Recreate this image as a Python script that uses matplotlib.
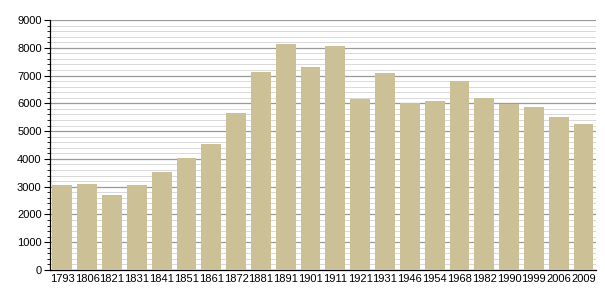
# diagrama de barras de poblacion por anio

import matplotlib.pyplot as plt
import numpy as np
from matplotlib.ticker import MultipleLocator

anios = ['1793', '1806', '1821', '1831', '1841', '1851', '1861', '1872', '1881', '1891', '1901',
         '1911', '1921', '1931', '1946', '1954', '1968', '1982', '1990', '1999', '2006', '2009']
poblacion = [3060, 3110, 2700, 3060, 3530, 4030, 4520, 5660, 7140, 8150, 7310,
             8060, 6170, 7090, 6000, 6080, 6800, 6180, 5990, 5870, 5520, 5260]

plt.rcParams['font.family'] = ['Liberation Sans', 'DejaVu Sans']

fig = plt.figure(figsize=(6.05, 3.0), dpi=100)
ax = fig.add_axes([0.0826, 0.1, 0.9024, 0.8333])

x = np.arange(len(anios))
ax.bar(x, poblacion, width=0.8, color='#cbc096', zorder=3)

ax.set_xlim(-0.5, len(anios) - 0.5)
ax.set_ylim(0, 9000)
ax.yaxis.set_major_locator(MultipleLocator(1000))
ax.yaxis.set_minor_locator(MultipleLocator(200))
ax.grid(axis='y', which='major', color='#999999', linewidth=0.9, zorder=0)
ax.grid(axis='y', which='minor', color='#d8d8d8', linewidth=0.7, zorder=0)

ax.set_xticks(x)
ax.set_xticklabels(anios, fontsize=8)
ax.tick_params(axis='x', length=0, pad=3)
ax.tick_params(axis='y', which='major', length=4, width=0.8, labelsize=8, pad=2)
ax.tick_params(axis='y', which='minor', length=2, width=0.6)

for s in ['top', 'right']:
    ax.spines[s].set_visible(False)
ax.spines['left'].set_linewidth(0.9)
ax.spines['bottom'].set_linewidth(0.9)

fig.savefig('out.png', dpi=100)
